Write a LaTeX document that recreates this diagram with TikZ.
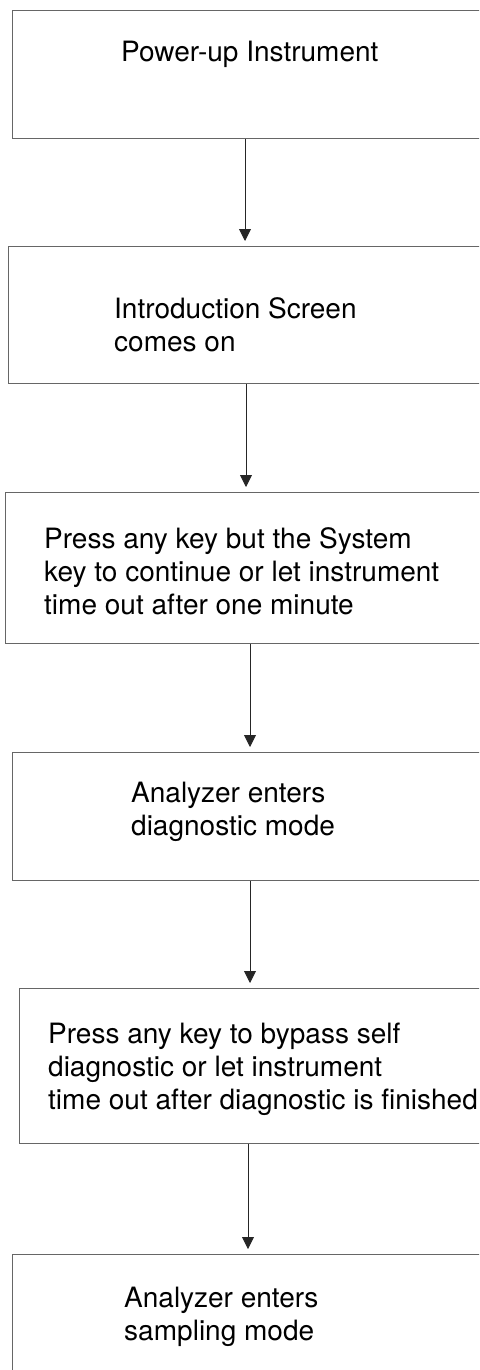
\documentclass[tikz,border=0pt]{standalone}
\usepackage{fontspec}
\setmainfont{TeX Gyre Heros}
\usetikzlibrary{arrows.meta}

\begin{document}
\begin{tikzpicture}[x=1pt,y=-1pt,
    box/.style={draw=black!60, line width=1.1pt, anchor=north west, minimum width=600pt},
    txt/.style={anchor=base west, align=left, inner sep=0pt, font=\fontsize{28}{33}\selectfont},
    arr/.style={draw=black!85, line width=0.9pt, -{Triangle[width=12pt,length=12pt]}, shorten >=5pt}]
    \useasboundingbox (0,0) rectangle (479,1370);
    \clip (0,0) rectangle (479,1370);

    % Kaesten, rechts abgeschnitten
    \node[box, minimum height=128pt] (b1) at (12,10) {};
    \node[box, minimum height=137pt] (b2) at (8,246) {};
    \node[box, minimum height=151pt] (b3) at (5,492) {};
    \node[box, minimum height=128pt] (b4) at (12,752) {};
    \node[box, minimum height=155pt] (b5) at (19,988) {};
    \node[box, minimum height=140pt] (b6) at (12,1254) {};

    % Texte (Anker an der letzten Zeile)
    \node[txt] (t1) at (121,62) {Power-up Instrument};
    \node[txt] (t2) at (114,351) {Introduction Screen\\comes on};
    \node[txt] (t3) at (44,614) {Press any key but the System\\key to continue or let instrument\\time out after one minute};
    \node[txt] (t4) at (131,835) {Analyzer enters\\diagnostic mode};
    \node[txt] (t5) at (48,1109) {Press any key to bypass self\\diagnostic or let instrument\\time out after diagnostic is finished};
    \node[txt] (t6) at (124,1340) {Analyzer enters\\sampling mode};

    % Pfeile
    \coordinate (a1) at ([xshift=233pt]b1.south west);
    \coordinate (a2) at ([xshift=238pt]b2.south west);
    \coordinate (a3) at ([xshift=245pt]b3.south west);
    \coordinate (a4) at ([xshift=238pt]b4.south west);
    \coordinate (a5) at ([xshift=229pt]b5.south west);
    \draw[arr] (a1) -- (a1 |- b2.north);
    \draw[arr] (a2) -- (a2 |- b3.north);
    \draw[arr] (a3) -- (a3 |- b4.north);
    \draw[arr] (a4) -- (a4 |- b5.north);
    \draw[arr] (a5) -- (a5 |- b6.north);
\end{tikzpicture}
\end{document}
